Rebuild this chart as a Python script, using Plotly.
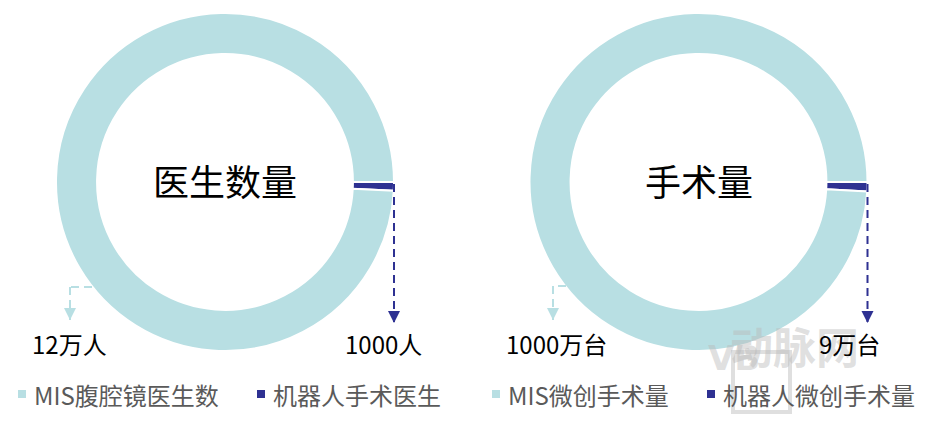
import plotly.graph_objects as go

W, H = 929, 422

# ---- data ----
doctor_labels = ["机器人手术医生", "MIS腹腔镜医生数"]
doctor_values = [1000, 120000]
doctor_text = ["1000人", "12万人"]
doctor_title = "医生数量"

surgery_labels = ["机器人微创手术量", "MIS微创手术量"]
surgery_values = [90000, 10000000]
surgery_text = ["9万台", "1000万台"]
surgery_title = "手术量"

TEAL = "#b8dfe3"
NAVY = "#2e3192"
FONT = "Noto Sans CJK SC"


def X(px):
    return px / W


def Y(py):
    return 1 - py / H


R = 169
CY = 182
centers = [225, 698.5]

fig = go.Figure()
for cx, labels, values in [(centers[0], doctor_labels, doctor_values),
                           (centers[1], surgery_labels, surgery_values)]:
    fig.add_trace(go.Pie(
        labels=labels, values=values, hole=0.757, sort=False,
        direction="clockwise", rotation=90,
        marker=dict(colors=[NAVY, TEAL], line=dict(color="white", width=2)),
        textinfo="none", hoverinfo="label+value", showlegend=False,
        domain=dict(x=[X(cx - R), X(cx + R)], y=[Y(CY + R), Y(CY - R)]),
    ))

shapes = []
annotations = []

# watermark (drawn first, faint)
WM = "rgba(185,185,185,0.45)"
shapes.append(dict(type="rect", xref="paper", yref="paper",
                   x0=X(733), x1=X(790), y0=Y(412), y1=Y(352),
                   line=dict(color=WM, width=4)))
annotations.append(dict(x=X(761.5), y=Y(380), xref="paper", yref="paper",
                        text="<b>VB</b>", showarrow=False,
                        font=dict(family="DejaVu Sans", size=34, color=WM)))
annotations.append(dict(x=X(861), y=Y(378), xref="paper", yref="paper",
                        text="<b>动脉网</b>", showarrow=False,
                        font=dict(family=FONT, size=43, color=WM)))


def dashed(points, color):
    for (x0, y0), (x1, y1) in zip(points[:-1], points[1:]):
        shapes.append(dict(type="line", xref="paper", yref="paper",
                           x0=X(x0), y0=Y(y0), x1=X(x1), y1=Y(y1),
                           line=dict(color=color, width=2, dash="8px,5px")))
    tx, ty = points[-1]
    shapes.append(dict(type="path", xref="paper", yref="paper",
                       path=f"M {X(tx-6)},{Y(ty-12)} L {X(tx+6)},{Y(ty-12)} L {X(tx)},{Y(ty)} Z",
                       fillcolor=color, line=dict(color=color, width=0)))


# left donut callouts
dashed([(394, 184), (394, 323)], NAVY)
dashed([(92, 287), (70, 287), (70, 320)], TEAL)
# right donut callouts
dashed([(867.5, 184), (867.5, 323)], NAVY)
dashed([(566, 286), (553, 286), (553, 320)], TEAL)

# value labels
for x, t in [(383.5, doctor_text[0]), (69, doctor_text[1]),
             (849, surgery_text[0]), (556, surgery_text[1])]:
    annotations.append(dict(x=X(x), y=Y(343), xref="paper", yref="paper",
                            text=t, showarrow=False, xanchor="center", yanchor="middle",
                            font=dict(family=FONT, size=24, color="#000000")))

# centre titles
for cx, t in [(centers[0], doctor_title), (centers[1], surgery_title)]:
    annotations.append(dict(x=X(cx), y=Y(180), xref="paper", yref="paper",
                            text=t, showarrow=False, xanchor="center", yanchor="middle",
                            font=dict(family=FONT, size=36, color="#000000")))

# manual legend
legend_items = [(22, doctor_labels[1], TEAL), (261, doctor_labels[0], NAVY),
                (496, surgery_labels[1], TEAL), (711, surgery_labels[0], NAVY)]
for sx, t, c in legend_items:
    shapes.append(dict(type="rect", xref="paper", yref="paper",
                       x0=X(sx - 4), x1=X(sx + 4), y0=Y(398), y1=Y(390),
                       fillcolor=c, line=dict(width=0)))
    annotations.append(dict(x=X(sx + 10), y=Y(394), xref="paper", yref="paper",
                            text=t, showarrow=False, xanchor="left", yanchor="middle",
                            font=dict(family=FONT, size=24, color="#5a5a5a")))

fig.update_layout(
    width=W, height=H, margin=dict(l=0, r=0, t=0, b=0),
    paper_bgcolor="white", plot_bgcolor="white",
    shapes=shapes, annotations=annotations,
)

fig.write_html("out.html", config={"displayModeBar": False},
               post_script="document.body.style.margin='0';document.body.style.overflow='hidden';")
